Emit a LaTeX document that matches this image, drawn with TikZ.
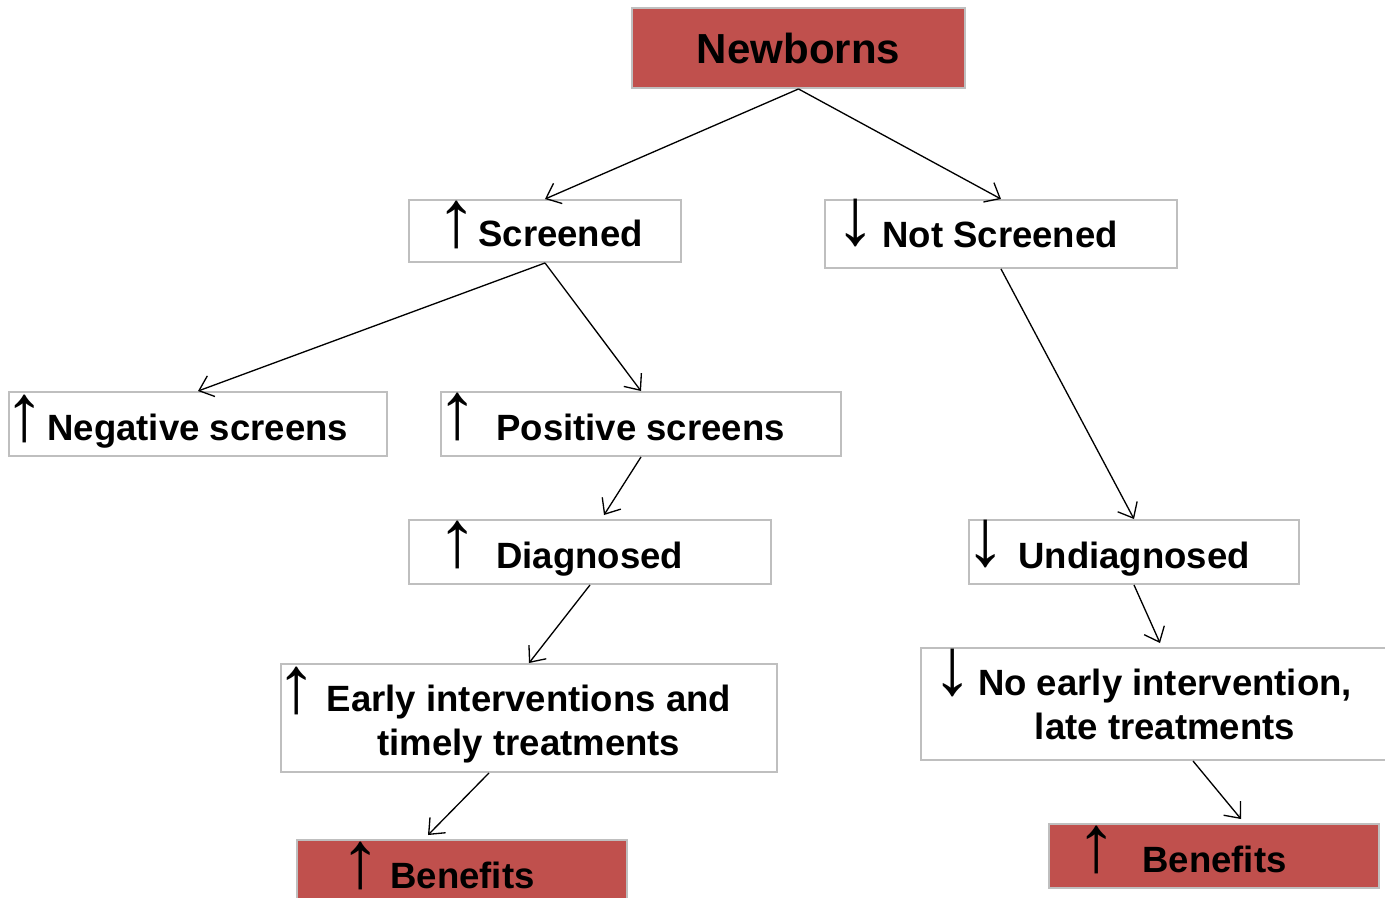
\documentclass[tikz,border=0pt]{standalone}
\usepackage{fontspec}
\setmainfont{Liberation Sans}
\usepackage{tikz}
\usetikzlibrary{arrows.meta}
\definecolor{boxred}{HTML}{C0504D}
\definecolor{boxgray}{HTML}{BFBFBF}

\begin{document}
\begin{tikzpicture}[
    box/.style={draw=boxgray, line width=1.1pt, inner sep=0pt},
    redbox/.style={box, fill=boxred},
    txt/.style={font=\bfseries\fontsize{20.8}{25}\selectfont, anchor=base west, inner sep=0pt},
    sym/.style={font=\bfseries\fontsize{46}{46}\selectfont, anchor=base, inner sep=0pt},
    link/.style={-{Straight Barb[length=2.6mm,width=4.4mm]}, line width=0.75pt}
    ]
    \useasboundingbox (0,0) rectangle (27.7,-17.96);
    % draw boxes
    \node[redbox, minimum width=6.66cm, minimum height=1.6cm,
          font=\bfseries\fontsize{23.9}{28}\selectfont] (newb) at (15.97,-0.96) {Newborns};
    \node[box, minimum width=5.44cm, minimum height=1.24cm] (scr) at (10.9,-4.62) {};%screened
    \node[box, minimum width=7.04cm, minimum height=1.36cm] (nscr) at (20.02,-4.68) {};%not screened
    \node[box, minimum width=7.56cm, minimum height=1.28cm] (neg) at (3.96,-8.48) {};%negative
    \node[box, minimum width=8cm, minimum height=1.28cm] (pos) at (12.82,-8.48) {};%positive
    \node[box, minimum width=7.24cm, minimum height=1.28cm] (diag) at (11.8,-11.04) {};%diagnosed
    \node[box, minimum width=6.6cm, minimum height=1.28cm] (undiag) at (22.68,-11.04) {};%undiagnosed
    \node[box, minimum width=9.92cm, minimum height=2.16cm] (early) at (10.58,-14.36) {};%early
    \node[box, minimum width=9.36cm, minimum height=2.24cm] (noearly) at (23.1,-14.08) {};%no early
    \node[redbox, minimum width=6.6cm, minimum height=1.28cm] (benl) at (9.24,-17.44) {};%benefits left
    \node[redbox, minimum width=6.6cm, minimum height=1.28cm] (benr) at (24.28,-17.12) {};%benefits right

    % labels boxes
    \node[sym] (scrsym) at (9.14,-4.94) {↑};
    \node[txt] (scrtxt) at (9.56,-4.94) {Screened};
    \node[sym] (nscrsym) at (17.12,-4.9) {↓};
    \node[txt] (nscrtxt) at (17.64,-4.96) {Not Screened};
    \node[sym] (negsym) at (0.5,-8.8) {↑};
    \node[txt] (negtxt) at (0.94,-8.8) {Negative screens};
    \node[sym] (possym) at (9.16,-8.76) {↑};
    \node[txt] (postxt) at (9.92,-8.8) {Positive screens};
    \node[sym] (diagsym) at (9.16,-11.32) {↑};
    \node[txt] (diagtxt) at (9.92,-11.36) {Diagnosed};
    \node[sym] (undiagsym) at (19.72,-11.3) {↓};
    \node[txt] (undiagtxt) at (20.36,-11.36) {Undiagnosed};
    \node[sym] (earlysym) at (5.94,-14.24) {↑};
    \node[txt, anchor=base, align=center] (earlytxt) at (10.58,-15.1) {Early interventions and\\timely treatments};
    \node[sym] (noearlysym) at (19.06,-13.88) {↓};
    \node[txt, anchor=base, align=center] (noearlytxt) at (23.3,-14.78) {No early intervention,\\late treatments};
    \node[sym] (benlsym) at (7.22,-17.74) {↑};
    \node[txt] (benltxt) at (7.8,-17.76) {Benefits};
    \node[sym] (benrsym) at (21.93,-17.42) {↑};
    \node[txt] (benrtxt) at (22.84,-17.44) {Benefits};

    % draw links
    \draw[link] (newb.south) -- (scr.north);
    \draw[link] (newb.south) -- (nscr.north);
    \draw[link] (scr.south) -- (neg.north);
    \draw[link] (scr.south) -- (pos.north);
    \draw[link] (pos.south) -- ([xshift=0.28cm,yshift=0.08cm]diag.north);
    \draw[link] (diag.south) -- (early.north);
    \draw[link] ([xshift=-0.8cm]early.south) -- ([xshift=-0.68cm,yshift=0.08cm]benl.north);
    \draw[link] (nscr.south) -- (undiag.north);
    \draw[link] (undiag.south) -- ([xshift=0.1cm,yshift=0.08cm]noearly.north);
    \draw[link] ([xshift=0.76cm]noearly.south) -- ([xshift=0.54cm,yshift=0.08cm]benr.north);
\end{tikzpicture}
\end{document}
